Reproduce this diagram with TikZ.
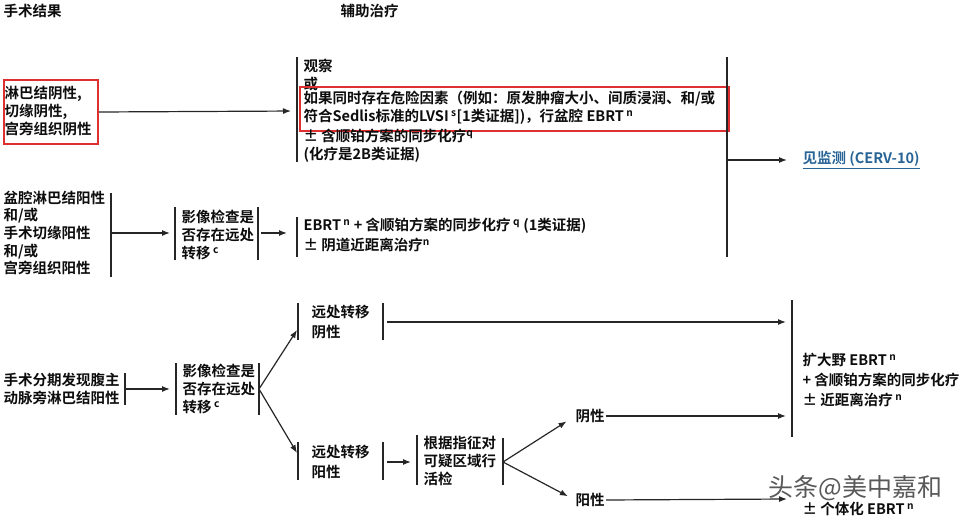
\documentclass[tikz,border=0pt]{standalone}
\usepackage{fontspec}
\setmainfont{Noto Sans CJK SC}[BoldFont={Noto Sans CJK SC Bold}]
\usetikzlibrary{arrows.meta}
\definecolor{boxred}{RGB}{222,48,48}
\definecolor{linkblue}{RGB}{40,100,150}
\tikzset{
  txt/.style={anchor=west,inner sep=0pt,align=left,text=black!95,
    font=\bfseries\fontsize{14.5}{17.7}\selectfont},
  arr/.style={-{Latex[length=8pt,width=6pt]},shorten >=6pt,shorten <=3pt},
  redbox/.style={draw=boxred,line width=2pt,anchor=north west,inner sep=0pt},
}

\begin{document}
\begin{tikzpicture}[x=1pt,y=-1pt,line width=1.2pt,draw=black!85]
                \useasboundingbox (0,0) rectangle (960,516);
                \node[txt] at (3,11) (h1) {手术结果};
                \node[txt] at (340,11) (h2) {辅助治疗};
                \node[txt] at (4,111) (neg) {淋巴结阴性,\\切缘阴性,\\宫旁组织阴性};
                \node[redbox,minimum width=94pt,minimum height=64pt] at (3,79) (rb1) {};
                \draw (297,57) -- (297,162);
                \coordinate (b1) at (297,111);
                \node[txt] at (303,75) (obs) {观察\\或};
                \node[txt] at (303,108) (risk) {如果同时存在危险因素（例如：原发肿瘤大小、间质浸润、和/或\\符合Sedlis标准的LVSI\,\textsuperscript{s}[1类证据])，行盆腔 EBRT\,\textsuperscript{n}};
                \node[redbox,minimum width=429pt,minimum height=44pt] at (299,86) (rb2) {};
                \node[txt] at (303,146) (chemo) {± 含顺铂方案的同步化疗\textsuperscript{q}\\(化疗是2B类证据)};
                \draw (727,57) -- (727,257);
                \coordinate (b2) at (727,160);
                \node[txt,text=linkblue] at (802,160) (cerv) {\underline{见监测 (CERV-10)}};
                \draw[arr,shorten <=0pt] (rb1.east) -- (b1);
                \draw[arr,shorten >=15pt,shorten <=0pt] (b2) -- (cerv.west);
                % pelvic node positive
                \node[txt] at (3,233) (pelv) {盆腔淋巴结阳性\\和/或\\手术切缘阳性\\和/或\\宫旁组织阳性};
                \draw (111,193) -- (111,277);
                \coordinate (c1) at (111,233);
                \draw (175,207) -- (175,260);
                \draw (258,207) -- (258,260);
                \coordinate (c2) at (175,233);
                \coordinate (c3) at (258,233);
                \node[txt] at (181,235) (img1) {影像检查是\\否存在远处\\转移\,\textsuperscript{c}};
                \draw (297,217) -- (297,257);
                \coordinate (c4) at (297,233);
                \node[txt] at (303,226) (ebrt1) {EBRT\,\textsuperscript{n} + 含顺铂方案的同步化疗\,\textsuperscript{q} (1类证据)};
                \node[txt] at (303,245) (brachy1) {± 阴道近距离治疗\textsuperscript{n}};
                \draw[arr,shorten <=0pt,shorten >=5pt] (c1) -- (c2);
                \draw[arr,shorten >=10pt] (c3) -- (c4);
                % para-aortic positive
                \node[txt] at (3,389) (pa) {手术分期发现腹主\\动脉旁淋巴结阳性};
                \draw (125,373) -- (125,405);
                \coordinate (d1) at (125,389);
                \draw (176,363) -- (176,415);
                \draw (259,363) -- (259,415);
                \coordinate (d2) at (176,389);
                \coordinate (d3) at (259,389);
                \node[txt] at (182,389) (img2) {影像检查是\\否存在远处\\转移\,\textsuperscript{c}};
                \draw[arr,shorten <=0pt] (d1) -- (d2);
                \draw (298,303) -- (298,340);
                \draw (383,303) -- (383,340);
                \node[txt,font=\bfseries\fontsize{14.5}{20}\selectfont] at (311,322) (mneg) {远处转移\\阴性};
                \draw (298,442) -- (298,480);
                \draw (383,442) -- (383,480);
                \node[txt,font=\bfseries\fontsize{14.5}{20}\selectfont] at (311,462) (mpos) {远处转移\\阳性};
                \coordinate (e1) at (297,330);
                \coordinate (e2) at (297,453);
                \coordinate (e3) at (383,322);
                \coordinate (e4) at (383,462);
                \draw[arr,shorten >=0pt,shorten <=0pt] (d3) -- (e1);
                \draw[arr,shorten >=0pt,shorten <=0pt] (d3) -- (e2);
                \draw (417,435) -- (417,485);
                \draw (503,438) -- (503,485);
                \coordinate (f1) at (417,462);
                \coordinate (f2) at (503,462);
                \node[txt] at (423,461) (biop) {根据指征对\\可疑区域行\\活检};
                \draw[arr,shorten <=4pt] (e4) -- (f1);
                \node[txt] at (575,416) (bneg) {阴性};
                \node[txt] at (575,500) (bpos) {阳性};
                \draw[arr,shorten >=10pt,shorten <=0pt] (f2) -- (bneg.west);
                \draw[arr,shorten >=8pt,shorten <=0pt] (f2) -- (bpos.west);
                \draw (792,300) -- (792,437);
                \coordinate (g1) at (792,322);
                \coordinate (g2) at (792,416);
                \coordinate (g3) at (787,499);
                \node[txt,font=\bfseries\fontsize{14.5}{20}\selectfont] at (802,380) (ext) {扩大野 EBRT\,\textsuperscript{n}\\+ 含顺铂方案的同步化疗\\± 近距离治疗\,\textsuperscript{n}};
                \node[txt] at (802,509) (indiv) {± 个体化 EBRT\,\textsuperscript{n}};
                \draw[arr,shorten <=4pt] (e3) -- (g1);
                \draw[arr,shorten <=1pt] (bneg.east) -- (g2);
                \draw[arr,shorten <=1pt,shorten >=0pt] (bpos.east) -- (g3);
                \node[anchor=west,inner sep=0pt,text=black!65,font=\fontsize{25}{25}\selectfont] at (768,488) (wm) {头条@美中嘉和};
            \end{tikzpicture}
\end{document}
